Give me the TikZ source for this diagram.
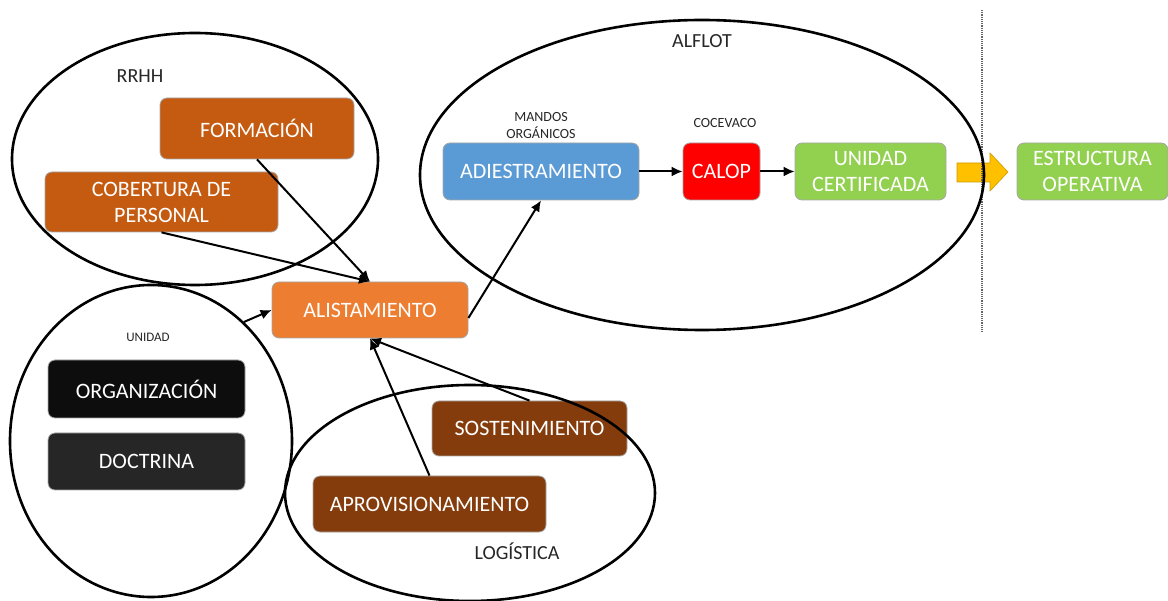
\documentclass[tikz,border=0pt]{standalone}
\usepackage{fontspec}
\setmainfont{Carlito}
\usetikzlibrary{shapes,arrows.meta}

\definecolor{naranjaRRHH}{HTML}{C55A11}
\definecolor{naranjaAlist}{HTML}{ED7D31}
\definecolor{marronLog}{HTML}{843C0C}
\definecolor{azulAdiest}{HTML}{5B9BD5}
\definecolor{verdeCert}{HTML}{92D050}
\definecolor{amarilloFlecha}{HTML}{FFC000}

\begin{document}
\begin{tikzpicture}[x=1pt,y=-1pt]
\tikzstyle{caja} = [rectangle, rounded corners=7pt, draw=black!35, line width=0.8pt,
  text=white, align=center, inner sep=0pt, font=\fontsize{22}{26}\selectfont]
\tikzstyle{grupo} = [ellipse, draw=black, line width=2.6pt, inner sep=0pt]
\tikzstyle{rotulo} = [text=black!85, align=center]
\tikzstyle{flecha} = [-{Latex[length=11pt,width=10pt]}, line width=2pt]

\useasboundingbox (0,0) rectangle (1168,601);

% cajas
\node[caja, fill=naranjaRRHH, minimum width=194pt, minimum height=61pt] (formacion) at (257,128.5) {FORMACIÓN};
\node[caja, fill=naranjaRRHH, minimum width=233pt, minimum height=60pt] (cobertura) at (161.5,202) {COBERTURA DE\\PERSONAL};
\node[caja, fill=naranjaAlist, minimum width=196pt, minimum height=56pt] (alist) at (370,310) {ALISTAMIENTO};
\node[caja, fill=black!95, minimum width=197pt, minimum height=58pt] (organiz) at (146.5,389) {ORGANIZACIÓN};
\node[caja, fill=black!85, minimum width=197pt, minimum height=57pt] (doctrina) at (146.5,461.5) {DOCTRINA};
\node[caja, fill=marronLog, minimum width=195pt, minimum height=55pt] (sosten) at (529.5,428.5) {SOSTENIMIENTO};
\node[caja, fill=marronLog, minimum width=233pt, minimum height=56pt] (aprov) at (429.5,504) {APROVISIONAMIENTO};
\node[caja, fill=azulAdiest, minimum width=196pt, minimum height=57pt] (adiest) at (541,171.5) {ADIESTRAMIENTO};
\node[caja, fill=red, minimum width=77pt, minimum height=57pt] (calop) at (721.5,171.5) {CALOP};
\node[caja, fill=verdeCert, minimum width=151pt, minimum height=57pt] (certif) at (870.5,171.5) {UNIDAD\\CERTIFICADA};
\node[caja, fill=verdeCert, minimum width=151pt, minimum height=57pt] (estruct) at (1092.5,171.5) {ESTRUCTURA\\OPERATIVA};

% flecha gruesa
\draw[fill=amarilloFlecha, draw=amarilloFlecha!80!black, line width=0.6pt]
  (957,163) -- (990,163) -- (990,153) -- (1008,172) -- (990,191) -- (990,182) -- (957,182) -- cycle;

% separacion
\draw[black!60, densely dotted, line width=1.2pt] (982,10) -- (982,333);

% elipses
\node[grupo, minimum width=366pt, minimum height=252pt] (rrhh) at (195,159) {};
\node[grupo, minimum width=282pt, minimum height=312pt] (unidad) at (151,441) {};
\node[grupo, minimum width=370pt, minimum height=216pt] (logistica) at (470,493) {};
\node[grupo, minimum width=564pt, minimum height=310pt] (alflot) at (702,175) {};

% rotulos
\node[rotulo, font=\fontsize{20}{23}\selectfont] (tRRHH) at (140,76) {RRHH};
\node[rotulo, font=\fontsize{13}{15}\selectfont] (tUnidad) at (148,337) {UNIDAD};
\node[rotulo, font=\fontsize{20}{23}\selectfont] (tLog) at (517,551) {LOGÍSTICA};
\node[rotulo, font=\fontsize{20}{23}\selectfont] (tAlflot) at (702,41) {ALFLOT};
\node[rotulo, font=\fontsize{14}{17}\selectfont] (tMandos) at (541,126) {MANDOS\\ORGÁNICOS};
\node[rotulo, font=\fontsize{14}{16}\selectfont] (tCocevaco) at (725,123) {COCEVACO};

% conexiones
\draw[flecha] (formacion.south) -- (alist.north);
\draw[flecha] (cobertura.south) -- (alist.north);
\draw[flecha] (unidad.52) -- (alist.west);
\draw[flecha] ([yshift=-8pt]alist.east) -- (adiest.south);
\draw[flecha] (aprov.north) -- (alist.south);
\draw[flecha] (sosten.north) -- (alist.south);
\draw[flecha] (adiest) -- (calop);
\draw[flecha] (calop) -- (certif);

\end{tikzpicture}
\end{document}
